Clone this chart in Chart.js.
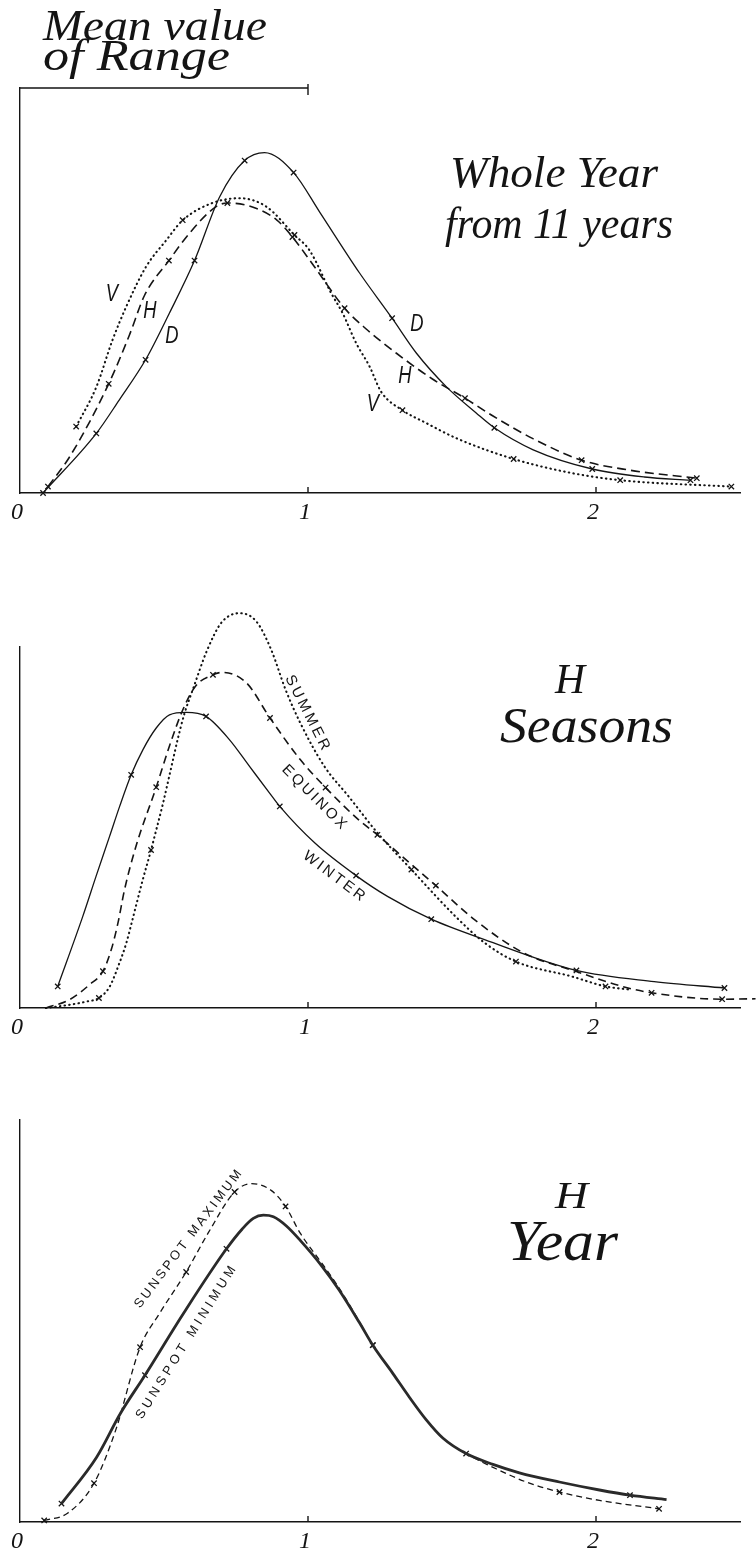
<!DOCTYPE html>
<html>
<head>
<meta charset="utf-8">
<title>Mean value of Range</title>
<script src="https://cdn.jsdelivr.net/npm/chart.js@4.4.1/dist/chart.umd.min.js"></script>
<style>
  html, body { margin: 0; padding: 0; background: #fff; }
  #wrap { position: relative; width: 756px; height: 1552px; }
  #wrap canvas { position: absolute; left: 0; }
</style>
</head>
<body>
<div id="wrap">
  <canvas id="chart-year" width="756" height="540" style="top:0"></canvas>
  <canvas id="chart-seasons" width="756" height="510" style="top:540px"></canvas>
  <canvas id="chart-sunspot" width="756" height="502" style="top:1050px"></canvas>
</div>
<script>
// ==================== Data ====================

var X_TICKS = [0, 1, 2];

// Whole Year from 11 years : D, H, V
var D_PTS = [[0.08, 0], [0.265, 14.9], [0.345, 23.3], [0.436, 33.3], [0.519, 45], [0.606, 58.1], [0.693, 74], [0.78, 83.1], [0.849, 85.1], [0.95, 80.1], [1.04, 70.3], [1.179, 55], [1.292, 43.7], [1.376, 35], [1.48, 26.6], [1.584, 20], [1.647, 16.3], [1.782, 10.8], [1.987, 6], [2.168, 4], [2.328, 3.2]];
var D_OBS = [0.08, 0.265, 0.436, 0.606, 0.78, 0.95, 1.292, 1.647, 1.987, 2.328];

var H_PTS = [[0.097, 1.6], [0.172, 9], [0.308, 27.3], [0.38, 39.5], [0.433, 49.5], [0.517, 58.1], [0.589, 65], [0.681, 71.6], [0.72, 72.5], [0.807, 71.5], [0.891, 68.3], [0.946, 64], [1.023, 56.5], [1.127, 46.2], [1.202, 41], [1.306, 35], [1.432, 28.5], [1.545, 23.7], [1.641, 19.3], [1.781, 13.6], [1.95, 8.2], [2.118, 5.7], [2.35, 3.7]];
var H_OBS = [0.097, 0.308, 0.517, 0.72, 0.946, 1.127, 1.545, 1.95, 2.35];

var V_PTS = [[0.195, 16.6], [0.265, 26.5], [0.321, 38.2], [0.369, 46.6], [0.438, 56.6], [0.508, 63.2], [0.565, 68.2], [0.668, 72.5], [0.762, 73.7], [0.855, 71.6], [0.953, 64.5], [1.005, 60.7], [1.081, 49.9], [1.12, 45], [1.167, 37.5], [1.214, 31.6], [1.254, 25.3], [1.328, 20.7], [1.41, 17.5], [1.515, 13.7], [1.714, 8.5], [1.915, 5], [2.084, 3.2], [2.47, 1.6]];
var V_OBS = [0.195, 0.565, 0.953, 1.328, 1.714, 2.084, 2.47];

// H Seasons
var WINTER_PTS = [[0.131, 5.4], [0.218, 22.9], [0.264, 32.9], [0.311, 42.9], [0.346, 50.4], [0.386, 58.3], [0.427, 64.6], [0.473, 70], [0.519, 73.3], [0.577, 73.9], [0.646, 72.9], [0.727, 67.1], [0.797, 60.4], [0.866, 53.8], [0.902, 50.4], [1.023, 41.3], [1.167, 33.1], [1.276, 27.9], [1.428, 22.2], [1.613, 17.1], [1.932, 9.4], [2.202, 6.6], [2.446, 5]];
var WINTER_OBS = [0.131, 0.386, 0.646, 0.902, 1.167, 1.428, 1.932, 2.446];

var EQUINOX_PTS = [[0.09, 0], [0.172, 2.1], [0.241, 5.8], [0.288, 9.2], [0.317, 14.6], [0.34, 21.2], [0.363, 29.6], [0.403, 40.5], [0.473, 55.2], [0.519, 65.5], [0.565, 74.5], [0.61, 80.5], [0.67, 83.3], [0.703, 83.9], [0.786, 81.3], [0.868, 72.5], [0.973, 62.1], [1.061, 55.1], [1.175, 47.1], [1.241, 43.3], [1.327, 37.9], [1.444, 30.6], [1.578, 22.1], [1.748, 13.8], [1.932, 9.1], [2.101, 5.2], [2.193, 3.8], [2.438, 2.2], [2.554, 2.3]];
var EQUINOX_OBS = [0.288, 0.473, 0.67, 0.868, 1.061, 1.241, 1.444, 2.193, 2.438];

var SUMMER_PTS = [[0.09, 0], [0.172, 0.8], [0.23, 1.6], [0.274, 2.5], [0.311, 5.3], [0.345, 11.2], [0.369, 16.2], [0.386, 20.8], [0.403, 25.6], [0.426, 32], [0.455, 39.5], [0.473, 44.5], [0.496, 51], [0.513, 56.3], [0.531, 62], [0.548, 67.3], [0.571, 73.6], [0.6, 79.6], [0.65, 89.5], [0.7, 96.4], [0.762, 98.7], [0.821, 96.6], [0.872, 89.6], [0.922, 79.6], [0.973, 71.3], [1.057, 60.4], [1.141, 52.9], [1.241, 43.8], [1.359, 34.6], [1.512, 22.9], [1.613, 16.3], [1.722, 11.6], [1.915, 7.9], [2.033, 5.4], [2.118, 4.6]];
var SUMMER_OBS = [0.274, 0.455, 0.821, 1.359, 1.722, 2.033];

// H Year : sunspot minimum / maximum
var MIN_PTS = [[0.144, 4.6], [0.266, 16.2], [0.349, 27.2], [0.434, 36.7], [0.568, 52.2], [0.717, 68.3], [0.771, 73.2], [0.81, 75.9], [0.845, 76.7], [0.88, 76.3], [0.925, 74], [0.973, 70.4], [1.05, 63.8], [1.108, 58], [1.179, 49.8], [1.225, 44.2], [1.295, 37.1], [1.352, 31.2], [1.41, 25.6], [1.468, 21], [1.549, 17.1], [1.642, 14.4], [1.734, 12.3], [1.873, 10], [2.012, 8], [2.118, 6.7], [2.245, 5.6]];
var MIN_OBS = [0.144, 0.434, 0.717, 1.225, 1.549, 2.118];

var MAX_PTS = [[0.084, 0.4], [0.165, 2.2], [0.257, 9.7], [0.332, 22.9], [0.417, 43.7], [0.484, 52.1], [0.577, 62.5], [0.653, 72.2], [0.745, 82.5], [0.804, 84.6], [0.872, 82.9], [0.922, 78.9], [0.973, 72.2], [1.05, 64.5], [1.108, 58.5], [1.179, 50], [1.225, 44.2], [1.295, 37.1], [1.352, 31.2], [1.41, 25.6], [1.468, 21], [1.549, 17.1], [1.665, 12.9], [1.758, 10], [1.873, 7.5], [2.012, 5.4], [2.219, 3.3]];
var MAX_OBS = [0.084, 0.257, 0.417, 0.577, 0.745, 0.922, 1.225, 1.873, 2.219];

(function () {
  'use strict';

  if (typeof Chart === 'undefined') return;

  var INK = '#141414';
  var SERIF = "'Liberation Serif', 'DejaVu Serif', serif";
  var SANS = "'Liberation Sans', 'DejaVu Sans', sans-serif";

  function curve(pts, style) {
    var ds = {
      data: pts.map(function (p) { return { x: p[0], y: p[1] }; }),
      borderColor: INK,
      borderWidth: 1.3,
      pointRadius: 0,
      fill: false,
      cubicInterpolationMode: 'monotone',
      clip: false
    };
    for (var k in style) ds[k] = style[k];
    return ds;
  }

  function crosses(pts, obs) {
    var marks = [];
    obs.forEach(function (x) {
      for (var i = 0; i < pts.length; i++) {
        if (Math.abs(pts[i][0] - x) < 1e-9) { marks.push({ x: pts[i][0], y: pts[i][1] }); break; }
      }
    });
    return {
      data: marks,
      showLine: false,
      pointStyle: 'crossRot',
      pointRadius: 3.8,
      pointBorderWidth: 1.3,
      pointBorderColor: INK,
      borderColor: INK,
      clip: false
    };
  }

  // text helper: optional rotation, horizontal fit to a width (scale or letter spacing)
  function label(ctx, text, x, y, o) {
    ctx.save();
    ctx.translate(x, y);
    if (o.rot) ctx.rotate(o.rot * Math.PI / 180);
    ctx.font = o.font;
    ctx.fillStyle = INK;
    ctx.textAlign = o.align || 'left';
    ctx.textBaseline = o.base || 'alphabetic';
    if (o.width) {
      var w = ctx.measureText(text).width;
      if (o.spread && 'letterSpacing' in ctx) {
        ctx.letterSpacing = ((o.width - w) / text.length).toFixed(2) + 'px';
      } else {
        ctx.scale(o.width / w, 1);
      }
    } else if (o.sx) {
      ctx.scale(o.sx, 1);
    }
    ctx.fillText(text, 0, 0);
    ctx.restore();
  }

  function decor(draw) {
    return {
      id: 'decor',
      afterDraw: function (chart) {
        var ctx = chart.ctx, xs = chart.scales.x, a = chart.chartArea;
        ctx.save();
        ctx.strokeStyle = INK;
        ctx.lineWidth = 1.4;
        X_TICKS.slice(1).forEach(function (v) {
          var px = xs.getPixelForValue(v);
          ctx.beginPath();
          ctx.moveTo(px, a.bottom);
          ctx.lineTo(px, a.bottom - 6);
          ctx.stroke();
        });
        ctx.restore();
        draw(ctx, chart);
      }
    };
  }

  function options(yMax, pad) {
    return {
      responsive: false,
      animation: false,
      events: [],
      layout: { padding: pad },
      plugins: { legend: { display: false }, tooltip: { enabled: false } },
      scales: {
        x: {
          type: 'linear',
          min: 0,
          max: 2.5,
          afterBuildTicks: function (s) { s.ticks = X_TICKS.map(function (v) { return { value: v }; }); },
          afterFit: function (s) { s.height = 30; },
          grid: { display: false, drawTicks: false },
          border: { display: true, color: INK, width: 1.6 },
          ticks: {
            color: INK,
            padding: 5,
            labelOffset: -3,
            maxRotation: 0,
            autoSkip: false,
            font: { family: SERIF, style: 'italic', size: 24 }
          }
        },
        y: {
          min: 0,
          max: yMax,
          afterFit: function (s) { s.width = 0; },
          grid: { display: false, drawTicks: false },
          border: { display: true, color: INK, width: 1.4 },
          ticks: { display: false }
        }
      }
    };
  }

  function initChart(id, datasets, opts, plugin) {
    var el = document.getElementById(id);
    if (!el) return null;
    return new Chart(el.getContext('2d'), {
      type: 'line',
      data: { datasets: datasets },
      options: opts,
      plugins: [plugin]
    });
  }

  var DOTS = { borderDash: [0.5, 4.2], borderCapStyle: 'round', borderWidth: 2.1 };

  // ==================== Whole Year ====================

  initChart('chart-year', [
    curve(D_PTS, { borderWidth: 1.3 }),
    curve(H_PTS, { borderDash: [9, 5], borderWidth: 1.6 }),
    curve(V_PTS, DOTS),
    crosses(D_PTS, D_OBS),
    crosses(H_PTS, H_OBS),
    crosses(V_PTS, V_OBS)
  ], options(101.25, { top: 88, bottom: 17, left: 20, right: 16 }), decor(function (ctx, chart) {
    var xs = chart.scales.x, a = chart.chartArea;
    var x1 = xs.getPixelForValue(1);
    ctx.save();
    ctx.strokeStyle = INK;
    ctx.lineWidth = 1.4;
    ctx.beginPath();
    ctx.moveTo(xs.getPixelForValue(0), a.top);
    ctx.lineTo(x1, a.top);
    ctx.moveTo(x1, a.top - 4);
    ctx.lineTo(x1, a.top + 7);
    ctx.stroke();
    ctx.restore();

    var big = 'italic 44px ' + SERIF;
    label(ctx, 'Mean value', 43, 40, { font: big, width: 224 });
    label(ctx, 'of Range', 43, 70, { font: big, width: 187 });
    label(ctx, 'Whole Year', 450, 187, { font: 'italic 45px ' + SERIF, width: 208 });
    label(ctx, 'from 11 years', 445, 238, { font: 'italic 45px ' + SERIF, width: 228 });

    var tag = 'italic 23px ' + SANS;
    label(ctx, 'V', 112, 295, { font: tag, align: 'center', base: 'middle', sx: 0.8 });
    label(ctx, 'H', 150, 312, { font: tag, align: 'center', base: 'middle', sx: 0.8 });
    label(ctx, 'D', 172, 337, { font: tag, align: 'center', base: 'middle', sx: 0.8 });
    label(ctx, 'D', 417, 325, { font: tag, align: 'center', base: 'middle', sx: 0.8 });
    label(ctx, 'H', 405, 377, { font: tag, align: 'center', base: 'middle', sx: 0.8 });
    label(ctx, 'V', 373, 405, { font: tag, align: 'center', base: 'middle', sx: 0.8 });
  }));

  // ==================== H Seasons ====================

  initChart('chart-seasons', [
    curve(WINTER_PTS, { borderWidth: 1.3 }),
    curve(EQUINOX_PTS, { borderDash: [8, 5], borderWidth: 1.6 }),
    curve(SUMMER_PTS, DOTS),
    crosses(WINTER_PTS, WINTER_OBS),
    crosses(EQUINOX_PTS, EQUINOX_OBS),
    crosses(SUMMER_PTS, SUMMER_OBS)
  ], options(90.25, { top: 107, bottom: 12, left: 20, right: 16 }), decor(function (ctx) {
    label(ctx, 'H', 555, 153, { font: 'italic 42px ' + SERIF, width: 30 });
    label(ctx, 'Seasons', 500, 202, { font: 'italic 50px ' + SERIF, width: 173 });
    var caps = '15px ' + SANS;
    label(ctx, 'SUMMER', 308, 174, { font: caps, align: 'center', base: 'middle', rot: 63, width: 85, spread: true });
    label(ctx, 'EQUINOX', 315, 258, { font: caps, align: 'center', base: 'middle', rot: 45, width: 87, spread: true });
    label(ctx, 'WINTER', 335, 337, { font: caps, align: 'center', base: 'middle', rot: 37, width: 76, spread: true });
  }));

  // ==================== H Year (sunspot max / min) ====================

  initChart('chart-sunspot', [
    curve(MIN_PTS, { borderWidth: 2.8, borderColor: '#2a2a2a' }),
    curve(MAX_PTS, { borderDash: [6, 4], borderWidth: 1.3 }),
    crosses(MIN_PTS, MIN_OBS),
    crosses(MAX_PTS, MAX_OBS)
  ], options(100.5, { top: 70, bottom: 0, left: 20, right: 16 }), decor(function (ctx) {
    label(ctx, 'H', 555, 158, { font: 'italic 38px ' + SERIF, width: 33 });
    label(ctx, 'Year', 507, 210, { font: 'italic 58px ' + SERIF, width: 111 });
    var caps = '13px ' + SANS;
    label(ctx, 'SUNSPOT MAXIMUM', 189, 188, { font: caps, align: 'center', base: 'middle', rot: -53, width: 172, spread: true });
    label(ctx, 'SUNSPOT MINIMUM', 187, 291, { font: caps, align: 'center', base: 'middle', rot: -58, width: 181, spread: true });
  }));

})();
</script>
</body>
</html>
